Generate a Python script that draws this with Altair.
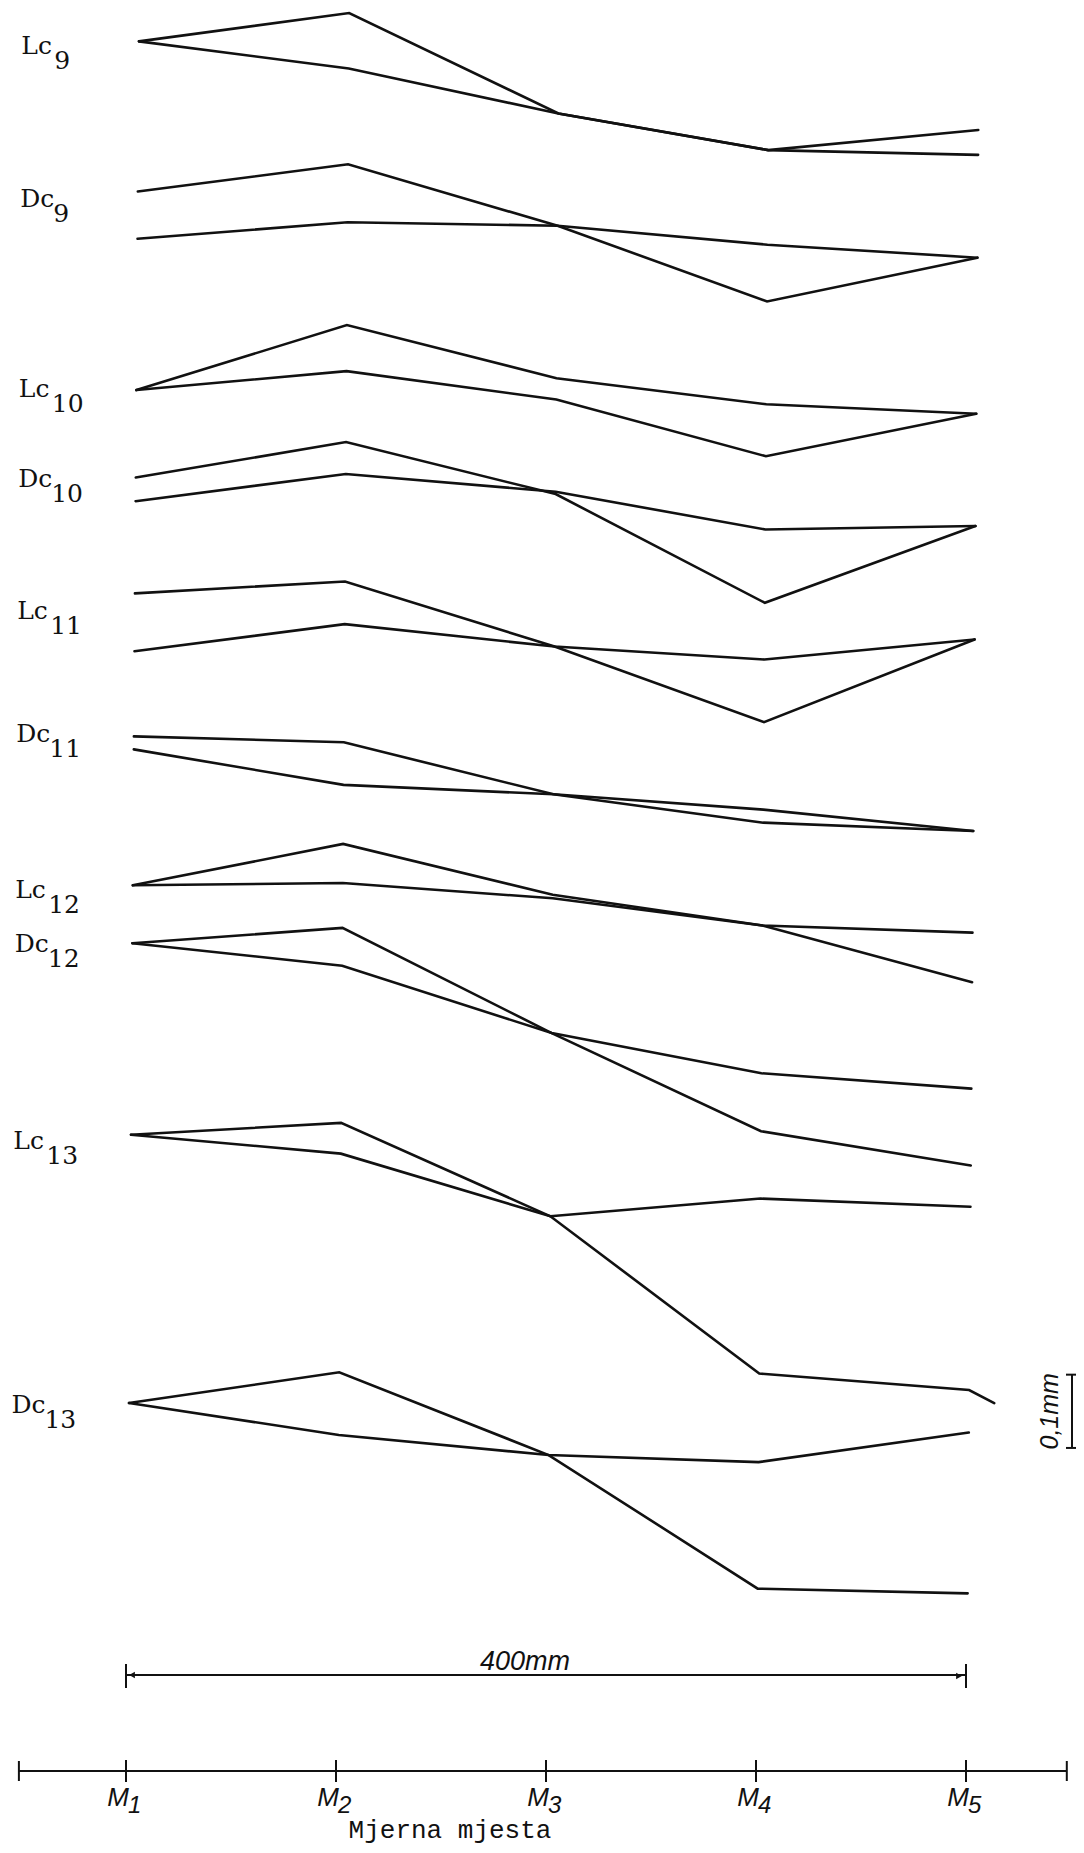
import altair as alt
import pandas as pd

# ---------------- data ----------------
# measuring places M1..M5 (index along the 400 mm base)
M_PLACES = [1, 2, 3, 4, 5]
TICK_SUBS = ["1", "2", "3", "4", "5"]

GROUPS = ["Lc9", "Dc9", "Lc10", "Dc10", "Lc11", "Dc11", "Lc12", "Dc12", "Lc13", "Dc13"]

# vertical position of each trace on the drawing (drawing units, 62 units = 0.1 mm, downwards)
LINE_A = [
    [35, 11, 96, 127, 131],
    [162, 139, 191, 255, 218],
    [330, 275, 320, 342, 350],
    [404, 374, 418, 510, 445],
    [502, 492, 547, 611, 541],
    [623, 628, 672, 696, 703],
    [749, 714, 757, 783, 831],
    [798, 785, 874, 957, 986],
    [960, 950, 1029, 1162, 1176],
    [1187, 1161, 1231, 1344, 1348],
]
LINE_B = [
    [35, 58, 96, 127, 110],
    [202, 188, 191, 207, 218],
    [330, 314, 338, 386, 350],
    [424, 401, 416, 448, 445],
    [551, 528, 547, 558, 541],
    [634, 664, 672, 685, 703],
    [749, 747, 760, 783, 789],
    [798, 817, 874, 908, 921],
    [960, 976, 1029, 1014, 1021],
    [1187, 1214, 1231, 1237, 1212],
]
# short run-out of the Lc13 "a" trace past M5
LC13_TAIL_M = 5.12
LC13_TAIL_V = 1187

LABEL_LEVEL = [39, 168, 329, 405, 517, 621, 753, 799, 965, 1189]
SCALE_BAR = [1163, 1225]  # 0.1 mm

rows = []
for gi, g in enumerate(GROUPS):
    for key, vals in (("a", LINE_A[gi]), ("b", LINE_B[gi])):
        for m, v in zip(M_PLACES, vals):
            rows.append({"series": f"{g}-{key}", "m": m, "v": v})
rows.append({"series": "Lc13-a", "m": LC13_TAIL_M, "v": LC13_TAIL_V})
lines_df = pd.DataFrame(rows)

labels_df = pd.DataFrame({
    "prefix": [g[:2] for g in GROUPS],
    "sub": [g[2:] for g in GROUPS],
    "v": LABEL_LEVEL,
    "m": [0.44] * len(GROUPS),
})
ticks_df = pd.DataFrame({"m": M_PLACES, "sub": TICK_SUBS})
ends_df = pd.DataFrame({"m": [0.49, 5.48]})
bar_df = pd.DataFrame({"v": [SCALE_BAR[0]], "v2": [SCALE_BAR[1]]})
bar_caps_df = pd.DataFrame({"v": SCALE_BAR})
bar_mid_df = pd.DataFrame({"v": [sum(SCALE_BAR) / 2]})

# ---------------- layout ----------------
W, H = 1068, 1837
XS = alt.Scale(domain=[1, 5], range=[118, 958])
YS = alt.Scale(domain=[0, 1000], range=[-8, 1174])
INK = "#111111"
SHEAR = "datum.m + (3 + 10 * (1190 - datum.v) / 1160) / 210"  # slight skew of the drawing
LABEL_FONT = "DejaVu Serif"
TYPE_FONT = "Liberation Mono"
HAND_FONT = "Liberation Sans"

lines = alt.Chart(lines_df).transform_calculate(mx=SHEAR).mark_line(
    color=INK, strokeWidth=2.6, strokeJoin="miter", strokeCap="round"
).encode(
    x=alt.X("mx:Q", scale=XS, axis=None),
    y=alt.Y("v:Q", scale=YS, axis=None),
    detail="series:N",
    order="m:Q",
)

lab_main = alt.Chart(labels_df).transform_calculate(mx=SHEAR).mark_text(
    align="left", baseline="middle", font=LABEL_FONT, fontSize=25, color=INK
).encode(x=alt.X("mx:Q", scale=XS), y=alt.Y("v:Q", scale=YS), text="prefix:N")

lab_sub = alt.Chart(labels_df).transform_calculate(mx=SHEAR).mark_text(
    align="left", baseline="middle", font=LABEL_FONT, fontSize=25, color=INK, dx=33, dy=15
).encode(x=alt.X("mx:Q", scale=XS), y=alt.Y("v:Q", scale=YS), text="sub:N")

# bottom axis drawn by hand
axis_line = alt.Chart(pd.DataFrame({"a": [0.49], "b": [5.48]})).mark_rule(
    color=INK, strokeWidth=2.2
).encode(x=alt.X("a:Q", scale=XS), x2="b:Q", y=alt.value(1763))

axis_ticks = alt.Chart(ticks_df).mark_rule(color=INK, strokeWidth=2).encode(
    x=alt.X("m:Q", scale=XS), y=alt.value(1752), y2=alt.value(1774)
)
axis_ends = alt.Chart(ends_df).mark_rule(color=INK, strokeWidth=2).encode(
    x=alt.X("m:Q", scale=XS), y=alt.value(1753), y2=alt.value(1773)
)
tick_m = alt.Chart(ticks_df).mark_text(
    align="right", baseline="alphabetic", font=HAND_FONT, fontStyle="italic",
    fontSize=26, color=INK, dx=3
).encode(x=alt.X("m:Q", scale=XS), y=alt.value(1798), text=alt.value("M"))
tick_sub = alt.Chart(ticks_df).mark_text(
    align="left", baseline="alphabetic", font=HAND_FONT, fontStyle="italic",
    fontSize=24, color=INK, dx=2
).encode(x=alt.X("m:Q", scale=XS), y=alt.value(1805), text="sub:N")

axis_title = alt.Chart(pd.DataFrame({"t": ["Mjerna mjesta"]})).mark_text(
    align="center", baseline="alphabetic", font=TYPE_FONT, fontSize=26, color=INK
).encode(x=alt.value(442), y=alt.value(1830), text="t:N")

# 400 mm dimension line
dim_line = alt.Chart(pd.DataFrame({"a": [1], "b": [5]})).mark_rule(
    color=INK, strokeWidth=2.2
).encode(x=alt.X("a:Q", scale=XS), x2="b:Q", y=alt.value(1667))
dim_caps = alt.Chart(pd.DataFrame({"m": [1, 5]})).mark_rule(color=INK, strokeWidth=2).encode(
    x=alt.X("m:Q", scale=XS), y=alt.value(1656), y2=alt.value(1680)
)
dim_arrow_l = alt.Chart(pd.DataFrame({"k": [0]})).mark_point(
    shape="triangle-left", filled=True, color=INK, size=45, opacity=1
).encode(x=alt.value(124), y=alt.value(1667))
dim_arrow_r = alt.Chart(pd.DataFrame({"k": [0]})).mark_point(
    shape="triangle-right", filled=True, color=INK, size=45, opacity=1
).encode(x=alt.value(951), y=alt.value(1668))
dim_text = alt.Chart(pd.DataFrame({"t": ["400mm"]})).mark_text(
    align="center", baseline="alphabetic", font=HAND_FONT, fontStyle="italic",
    fontSize=27, color=INK
).encode(x=alt.value(517), y=alt.value(1662), text="t:N")

# 0,1 mm scale bar
bar = alt.Chart(bar_df).mark_rule(color=INK, strokeWidth=2).encode(
    x=alt.value(1064), y=alt.Y("v:Q", scale=YS), y2="v2:Q"
)
bar_caps = alt.Chart(bar_caps_df).mark_rule(color=INK, strokeWidth=2).encode(
    x=alt.value(1058), x2=alt.value(1069), y=alt.Y("v:Q", scale=YS)
)
bar_text = alt.Chart(bar_mid_df).mark_text(
    align="center", baseline="middle", angle=270, font=HAND_FONT, fontStyle="italic",
    fontSize=25, color=INK
).encode(x=alt.value(1042), y=alt.Y("v:Q", scale=YS), text=alt.value("0,1mm"))

chart = alt.layer(
    lines, lab_main, lab_sub,
    axis_line, axis_ticks, axis_ends, tick_m, tick_sub, axis_title,
    dim_line, dim_caps, dim_arrow_l, dim_arrow_r, dim_text,
    bar, bar_caps, bar_text,
).properties(
    width=W, height=H,
    autosize=alt.AutoSizeParams(type="none"),
    padding=0,
    background="white",
).configure_view(stroke=None)

chart.save("out.html", embed_options={"renderer": "svg", "actions": False})
